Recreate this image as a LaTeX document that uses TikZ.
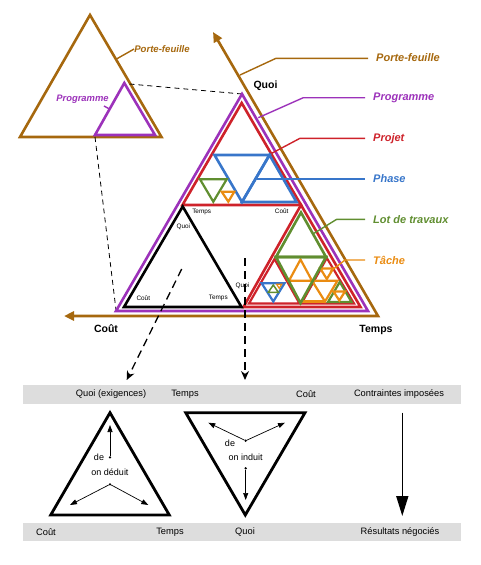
\documentclass[tikz,border=0pt]{standalone}
\usepackage{fontspec}
\setmainfont{Liberation Sans}
\usetikzlibrary{arrows.meta}
\definecolor{cbrown}{RGB}{166,104,14}
\definecolor{cpurple}{RGB}{156,50,186}
\definecolor{cred}{RGB}{206,34,42}
\definecolor{cblue}{RGB}{56,118,202}
\definecolor{cgreen}{RGB}{96,142,48}
\definecolor{corange}{RGB}{234,140,18}
\definecolor{cbar}{RGB}{221,221,221}
\begin{document}
\begin{tikzpicture}[x=1pt,y=-1pt,
  tri/.style={line width=2.6pt, line join=miter},
  trs/.style={line width=2.2pt, line join=miter},
  lead/.style={line width=1.4pt},
  lbl/.style={font=\fontsize{11}{13}\selectfont\bfseries\itshape, anchor=west, inner xsep=8pt, inner ysep=0pt},
  slbl/.style={font=\fontsize{9.6}{11}\selectfont\bfseries\itshape, inner sep=0pt},
  axl/.style={font=\fontsize{10.5}{12}\selectfont\bfseries, inner sep=0pt},
  tinyl/.style={font=\fontsize{6.4}{7}\selectfont, inner sep=0pt},
  barl/.style={font=\fontsize{9.3}{11}\selectfont, inner sep=0pt},
  inl/.style={font=\fontsize{9}{11}\selectfont, inner sep=0pt},
  dsh/.style={dash pattern=on 5pt off 4pt, line width=0.8pt},
  dsharr/.style={dash pattern=on 8pt off 5pt, line width=1.3pt, -{Stealth[length=9pt,width=8pt]}},
  thinarr/.style={line width=0.7pt, -{Triangle[length=7pt,width=5pt]}},
  dot/.style={circle, fill=black, inner sep=0pt, minimum size=2.6pt},
]
\useasboundingbox (0,0) rectangle (480,565);

% ---------- small top-left triangles ----------
\draw[tri,cbrown] (90,15) -- (161.5,137) -- (20,137) -- cycle;
\draw[tri,cpurple] (124.3,83) -- (155,135) -- (95,135) -- cycle;
\coordinate (sPFedge) at (116.5,59);
\coordinate (sPGedge) at (109.5,109);
\node[slbl,text=cbrown] (sPF) at (162,49) {Porte-feuille};
\node[slbl,text=cpurple,font=\fontsize{9.4}{11}\selectfont\bfseries\itshape] (sPG) at (82.5,99) {Programme};
\draw[lead,cbrown] (sPFedge) -- (sPF.west);
\draw[lead,cpurple] (sPGedge) -- (104,106);
\coordinate (sTop) at (129.5,84);
\coordinate (sBL) at (95,137);
\coordinate (bTop) at (242,94);
\coordinate (bBL) at (116,310);
\draw[dsh] (sTop) -- (bTop);
\draw[dsh] (sBL) -- (bBL);

% ---------- main axes (Porte-feuille) ----------
\draw[tri,cbrown,{Triangle[length=10pt,width=9pt]}-{Triangle[length=10pt,width=9pt]}] (64,316) -- (378,316) -- (213,32);
\node[axl] (qTop) at (265.5,86) {Quoi};
\node[axl] (cLeft) at (106,329) {Coût};
\node[axl] (tRight) at (376,330) {Temps};

% ---------- Programme ----------
\draw[tri,cpurple] (242,94) -- (368,311) -- (116,311) -- cycle;

% ---------- top Projet triangle ----------
\draw[tri,cred] (241.7,103) -- (301,205) -- (182.5,205) -- cycle;
% phases
\draw[tri,cblue] (214.5,155) -- (269.5,155) -- (242,202) -- cycle;
\draw[tri,cblue] (269.5,155) -- (296.5,202) -- (242,202) -- cycle;
% lots / taches
\draw[trs,cgreen] (200,179.3) -- (226.7,179.3) -- (213.3,201.7) -- cycle;
\draw[trs,corange] (221.7,191.7) -- (234.3,191.7) -- (228.3,201.7) -- cycle;

% ---------- bottom-right Projet triangle ----------
\draw[tri,cred] (301,205) -- (360.5,307) -- (243.5,307) -- cycle;
\draw[trs,cred] (274.5,259) -- (299.5,303.5) -- (249,303.5) -- cycle;
\draw[trs,cred] (326.8,258) -- (354,303.5) -- (301.5,303.5) -- cycle;
% inside bottom-left small red
\draw[trs,cblue] (261.7,283.3) -- (284.5,283.3) -- (273.3,301.5) -- cycle;
\draw[line width=1.5pt,cgreen,line join=miter] (273.3,285) -- (278.3,292.3) -- (268.3,292.3) -- cycle;
\draw[line width=1.2pt,corange] (276.7,284.3) -- (281.7,284.3) -- (279.2,288.3) -- cycle;
% oranges in bottom-right sub
\draw[trs,corange] (300.5,259.5) -- (312,280.7) -- (289,280.7) -- cycle;
\draw[trs,corange] (312,280.7) -- (337.5,280.7) -- (325,301.5) -- cycle;
\draw[trs,corange] (302,301.5) -- (325,301.5);
\draw[trs,corange] (320.3,268.5) -- (333.3,268.5) -- (326.8,279) -- cycle;
\draw[trs,cgreen] (339.8,282) -- (351.5,302) -- (328,302) -- cycle;
\draw[trs,corange] (333.5,291.5) -- (345,291.5) -- (339.3,300.5) -- cycle;
% green lots
\draw[tri,cgreen] (301,212.5) -- (326,257) -- (276,257) -- cycle;
\draw[tri,cgreen] (276,257) -- (326,257) -- (300.5,303) -- cycle;

% ---------- black triangle ----------
\draw[tri,black] (182.7,206.5) -- (241.5,307) -- (124,307) -- cycle;
\node[tinyl] (bq) at (183.3,226.7) {Quoi};
\node[tinyl] (bc) at (143.3,298.3) {Coût};
\node[tinyl] (bt) at (218.3,298.3) {Temps};
\node[tinyl] (rt) at (201.7,211.5) {Temps};
\node[tinyl] (rc) at (281.7,211.5) {Coût};
\node[tinyl] (rq) at (242.5,286) {Quoi};

% ---------- right labels and leaders ----------
\node[lbl,text=cbrown] (lPF) at (368,57.5) {Porte-feuille};
\node[lbl,text=cpurple] (lPG) at (365,97.7) {Programme};
\node[lbl,text=cred] (lPJ) at (365,138.3) {Projet};
\node[lbl,text=cblue] (lPH) at (365,179) {Phase};
\node[lbl,text=cgreen] (lLT) at (365,219.3) {Lot de travaux};
\node[lbl,text=corange] (lTA) at (365,260) {Tâche};
\coordinate (ePF) at (240,75);
\coordinate (ePG) at (258.3,117.7);
\coordinate (ePJ) at (271.7,153.3);
\coordinate (ePH) at (257,179);
\coordinate (eLT) at (314,233.3);
\coordinate (eTA) at (330,271.7);
\draw[lead,cbrown] (ePF) -- (276,58.3) -- (lPF.west |- 0,58.3);
\draw[lead,cpurple] (ePG) -- (303.3,97.7) -- (lPG.west);
\draw[lead,cred] (ePJ) -- (300,138.3) -- (lPJ.west);
\draw[lead,cblue] (ePH) -- (lPH.west);
\draw[lead,cgreen] (eLT) -- (336.7,219.3) -- (lLT.west);
\draw[lead,corange] (eTA) -- (345,260) -- (lTA.west);

% ---------- dashed arrows down ----------
\coordinate (dL1) at (181.7,269);
\coordinate (dL2) at (126.7,380);
\coordinate (dR1) at (245,258);
\coordinate (dR2) at (245,380);
\draw[dsharr] (dL1) -- (dL2);
\draw[dsharr] (dR1) -- (dR2);

% ---------- bars ----------
\fill[cbar] (23,385) rectangle (461,403.5);
\fill[cbar] (23,523) rectangle (461,541);
\node[barl] (b1) at (111,394) {Quoi (exigences)};
\node[barl] (b2) at (185,394) {Temps};
\node[barl] (b3) at (306,394) {Coût};
\node[barl] (b4) at (399,394) {Contraintes imposées};
\node[barl] (c1) at (46,532) {Coût};
\node[barl] (c2) at (170,532) {Temps};
\node[barl] (c3) at (245,532) {Quoi};
\node[barl] (c4) at (400,532) {Résultats négociés};

% ---------- left (deduction) triangle ----------
\draw[line width=2.8pt,line join=miter] (110,412.7) -- (169.3,515) -- (50.7,515) -- cycle;
\node[dot] (dA) at (110,457.3) {};
\node[dot] (dB) at (110,484.3) {};
\coordinate (tA) at (110,425);
\coordinate (tB1) at (70,505);
\coordinate (tB2) at (148.3,505);
\draw[thinarr] (dA) -- (tA);
\draw[thinarr] (dB) -- (tB1);
\draw[thinarr] (dB) -- (tB2);
\node[inl] (de1) at (99,457) {de};
\node[inl] (od) at (110,472.7) {on déduit};

% ---------- right (induction) triangle ----------
\draw[line width=2.8pt,line join=miter] (185.7,412.7) -- (305,412.7) -- (245.3,515) -- cycle;
\node[dot] (iA) at (245.7,440.7) {};
\node[dot] (iB) at (245.7,468.3) {};
\coordinate (uA1) at (208.3,422.7);
\coordinate (uA2) at (285,422.7);
\coordinate (uB) at (245.7,500);
\draw[thinarr] (iA) -- (uA1);
\draw[thinarr] (iA) -- (uA2);
\draw[thinarr] (iB) -- (uB);
\node[inl] (de2) at (230,443.5) {de};
\node[inl] (oi) at (245.7,457.7) {on induit};

% ---------- big arrow ----------
\coordinate (gA) at (402.3,412.7);
\coordinate (gB) at (402.3,516);
\draw[line width=1.6pt,-{Triangle[length=20pt,width=12pt]}] (gA) -- (gB);
\end{tikzpicture}
\end{document}
